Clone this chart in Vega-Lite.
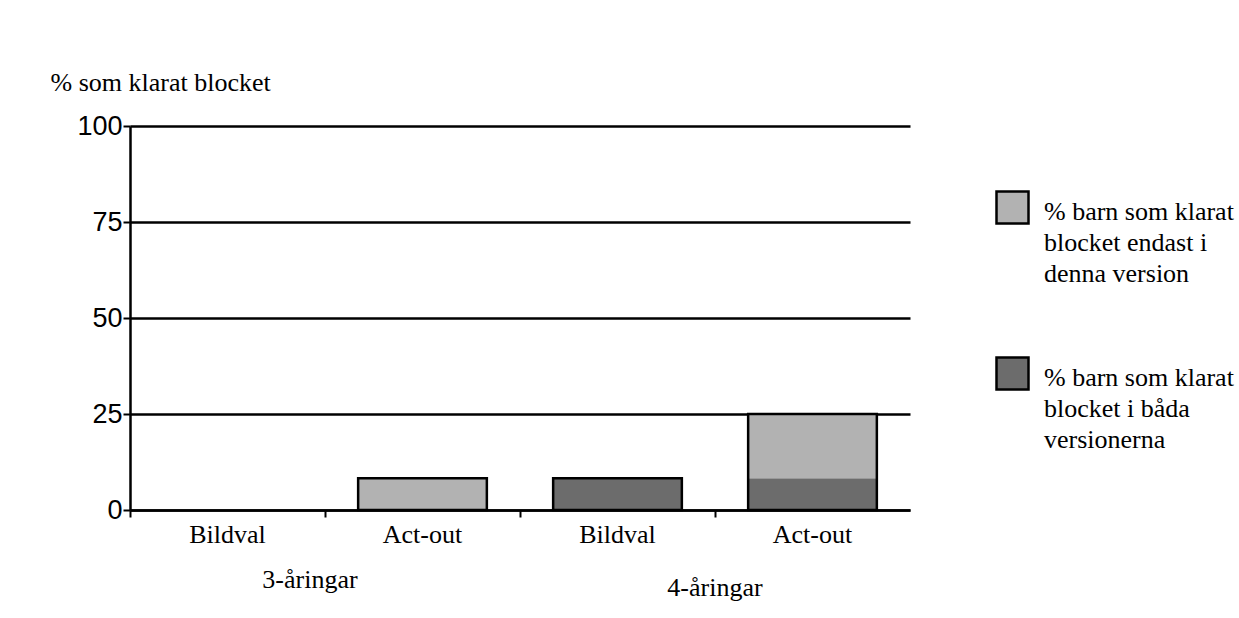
{
  "$schema": "https://vega.github.io/schema/vega-lite/v6.json",
  "width": 780,
  "height": 384,
  "autosize": "none",
  "padding": {"left": 130, "top": 126, "right": 329, "bottom": 108},
  "background": "white",
  "config": {
    "view": {"stroke": null},
    "style": {"guide-label": {"lineHeight": 31}}
  },
  "datasets": {
    "andelar": [
      {"alder": "3-åringar", "version": "Bildval", "key": "3|Bildval", "kategori": "båda", "andel": 0},
      {"alder": "3-åringar", "version": "Bildval", "key": "3|Bildval", "kategori": "endast", "andel": 0},
      {"alder": "3-åringar", "version": "Act-out", "key": "3|Act-out", "kategori": "båda", "andel": 0},
      {"alder": "3-åringar", "version": "Act-out", "key": "3|Act-out", "kategori": "endast", "andel": 8.3},
      {"alder": "4-åringar", "version": "Bildval", "key": "4|Bildval", "kategori": "båda", "andel": 8.3},
      {"alder": "4-åringar", "version": "Bildval", "key": "4|Bildval", "kategori": "endast", "andel": 0},
      {"alder": "4-åringar", "version": "Act-out", "key": "4|Act-out", "kategori": "båda", "andel": 8.3},
      {"alder": "4-åringar", "version": "Act-out", "key": "4|Act-out", "kategori": "endast", "andel": 16.7}
    ]
  },
  "layer": [
    {
      "data": {"name": "andelar"},
      "mark": {"type": "bar", "strokeWidth": 0, "width": {"band": 0.66}},
      "encoding": {
        "x": {
          "field": "key",
          "type": "nominal",
          "scale": {"domain": ["3|Bildval", "3|Act-out", "4|Bildval", "4|Act-out"], "paddingInner": 0, "paddingOuter": 0},
          "axis": {
            "title": null,
            "labelExpr": "split(datum.label, '|')[1]",
            "labelAngle": 0,
            "labelFont": "Liberation Serif",
            "labelFontSize": 26,
            "labelColor": "black",
            "labelPadding": 4,
            "bandPosition": 0,
            "tickColor": "black",
            "tickWidth": 2,
            "tickSize": 7,
            "domainColor": "black",
            "domainWidth": 2.5,
            "grid": false
          }
        },
        "y": {
          "field": "andel",
          "type": "quantitative",
          "stack": "zero",
          "title": "% som klarat blocket",
          "scale": {"domain": [0, 100], "nice": false},
          "axis": {
            "values": [0, 25, 50, 75, 100],
            "grid": true,
            "gridColor": "black",
            "gridWidth": 2.5,
            "gridOpacity": 1,
            "domainColor": "black",
            "domainWidth": 2.5,
            "tickColor": "black",
            "tickWidth": 2,
            "tickSize": 7,
            "labelFont": "Liberation Sans",
            "labelFontSize": 27,
            "labelColor": "black",
            "labelPadding": 1,
            "titleAngle": 0,
            "titleX": -80,
            "titleY": -44,
            "titleAlign": "left",
            "titleBaseline": "middle",
            "titleFont": "Liberation Serif",
            "titleFontSize": 26,
            "titleFontWeight": "normal",
            "titleColor": "black"
          }
        },
        "color": {
          "field": "kategori",
          "type": "nominal",
          "scale": {"domain": ["endast", "båda"], "range": ["#b2b2b2", "#6c6c6c"]},
          "legend": {
            "orient": "none",
            "legendX": 865,
            "legendY": 76,
            "title": null,
            "symbolType": "M-1,-1.75H1V0.25H-1Z",
            "symbolSize": 1024,
            "symbolStrokeColor": "black",
            "symbolStrokeWidth": 2.5,
            "symbolOpacity": 1,
            "labelFont": "Liberation Serif",
            "labelFontSize": 26,
            "labelColor": "black",
            "labelLimit": 400,
            "labelOffset": 14,
            "labelBaseline": "alphabetic",
            "rowPadding": 65,
            "labelExpr": "datum.label == 'endast' ? ['% barn som klarat', 'blocket endast i', 'denna version'] : ['% barn som klarat', 'blocket i båda', 'versionerna']"
          }
        },
        "order": {"field": "kategori", "sort": "ascending"}
      }
    },
    {
      "data": {"name": "andelar"},
      "transform": [{"filter": "datum.andel > 0"}],
      "mark": {"type": "bar", "fill": null, "fillOpacity": 0, "stroke": "black", "strokeWidth": 2.5, "width": {"band": 0.66}},
      "encoding": {
        "x": {"field": "key", "type": "nominal"},
        "y": {"aggregate": "sum", "field": "andel", "type": "quantitative", "title": "% som klarat blocket"}
      }
    },
    {
      "data": {"values": [{"key": "3|Act-out", "grupp": "3-åringar"}]},
      "mark": {"type": "text", "dy": 70, "dx": -15, "font": "Liberation Serif", "fontSize": 26, "color": "black", "baseline": "middle"},
      "encoding": {
        "x": {"field": "key", "type": "nominal", "bandPosition": 0},
        "y": {"datum": 0},
        "text": {"field": "grupp"}
      }
    },
    {
      "data": {"values": [{"key": "4|Act-out", "grupp": "4-åringar"}]},
      "mark": {"type": "text", "dy": 78, "font": "Liberation Serif", "fontSize": 26, "color": "black", "baseline": "middle"},
      "encoding": {
        "x": {"field": "key", "type": "nominal", "bandPosition": 0},
        "y": {"datum": 0},
        "text": {"field": "grupp"}
      }
    }
  ]
}
